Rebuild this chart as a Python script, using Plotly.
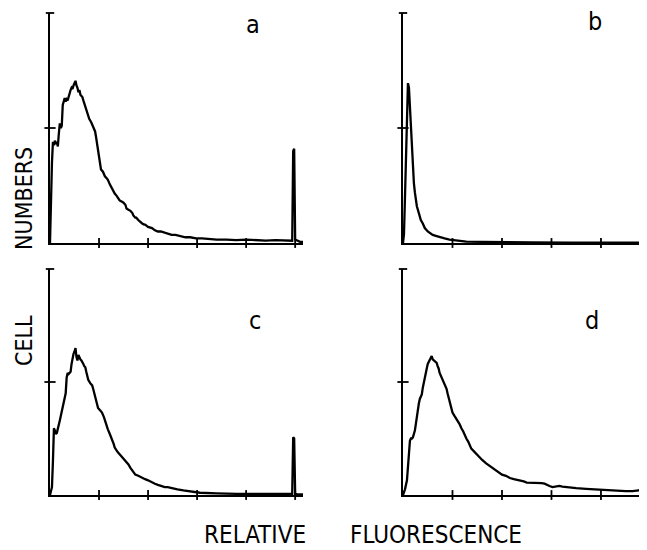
import plotly.graph_objects as go

# ---------------- data (channel, cell count in arbitrary units) ----------------
a_ch = [0,1,2,3,4,5,6,7,8,9,10,11,12,13,14,15,16,17,18,19,20,21,22,23,24,25,26,27,28,29,30,31,32,33,34,35,36,37,38,39,40,42,44,45,46,47,48,49,50,51,52,54,56,58,59,61,63,65,66,68,69,71,73,75,77,78,80,82,84,85,87,88,90,92,94,96,97,100,104,107,110,113,117,120,124,128,133,138,143,149,155,160,170,180,190,200,210,220,230,240,245,247,248,249,250,252,255,258]
a_val = [0,40,70,88,85,89,86,88,84,95,104,100,102,120,124,126,123,125,124,128,131,133,135,134,137,139,141,137,135,131,133,129,128,127,124,121,118,116,113,110,108,105,100,99,97,92,86,81,73,66,64,62,58,56,55,51,48,44,43,41,40,37,36,35,33,30,29,28,26,24,22,22,20,18,17,16,16,14,13,11,10,10,9,8,7,7,6,5,5,4,4,3.5,3,3,2.5,3,2.5,2,2.5,2,2,2,80,82,3,2,1,1]

b_ch = [0,1,2,3,4,5,6,7,8,9,10,11,12,13,14,16,18,20,22,25,28,30,34,37,42,47,55,64,80,100,130,170,246]
b_val = [0,8,40,80,115,139,135,118,100,82,62,52,44,37,32,26,20,17,13,10,8,7,6,5,4,3,2,1.2,1,0.6,0.5,0.4,0.3]

c_ch = [0,1,2,3,4,5,6,7,8,9,10,11,12,13,14,15,16,17,18,19,20,21,22,23,24,25,26,27,28,29,30,31,32,33,34,35,36,37,38,39,41,43,44,46,47,48,49,51,53,55,56,58,59,61,63,65,66,68,69,71,74,77,80,82,84,86,87,90,92,95,97,100,104,107,110,114,117,120,124,130,136,145,153,170,191,220,242,246,247,248,249,250,252,258]
c_val = [0,3,7,30,59,57,54,55,58,62,66,70,74,78,84,88,90,104,108,107,108,109,116,122,125,127,130,122,119,124,121,120,119,118,116,114,113,109,105,102,99,97,94,88,84,80,77,75,73,69,66,61,58,54,50,45,42,39,38,36,33,30,27,24,22,20,18,17,16,15,14,13,11,10,9,8,7,7,6,5,4,3,2,1.5,1,1,0.5,0.5,1,51,50,1,0.5,0.5]

d_ch = [0,1,2,4,5,6,7,8,9,10,11,12,13,14,15,16,17,19,20,21,22,23,24,25,26,27,28,29,30,31,33,34,35,36,37,38,40,42,44,45,47,48,50,52,55,57,59,61,64,66,69,71,74,77,80,84,87,90,94,97,100,104,108,112,118,122,125,130,135,138,140,143,145,148,151,155,158,161,165,168,175,185,195,205,215,225,232,238,241,243,245]
d_val = [0,2,5,13,25,38,48,50,50,51,54,57,63,70,77,81,85,89,95,100,104,108,112,116,118,120,121,123,120,119,118,117,114,112,108,106,101,98,94,90,83,80,73,70,66,63,59,56,50,47,41,39,37,34,31,28,26,24,22,20,18,17,15,14,13,12,11,11,10.5,11,10.5,10,9,8,7,7.5,8,7.5,7,6.5,6,5.5,5,4,4,3.5,3.5,4,5,7,9]
d_over_ch = [245, 245]
d_over_val = [9, 198]

x_ticks_left = [50, 100, 150, 200, 250]
x_ticks_right = [50, 100, 150, 200]
y_mid_tick = [100]
y_top_cap = [200]

panel_labels = ["a", "b", "c", "d"]
x_title_words = ["RELATIVE", "FLUORESCENCE"]
y_title_words = ["CELL", "NUMBERS"]

# ---------------- figure ----------------
# page body has an 8px default margin; the figure is sized/placed to compensate
OFF = 8
W, H = 647 - OFF, 550 - OFF
FONT = "DejaVu Sans Condensed, DejaVu Sans, sans-serif"

def fx(p):
    return (p - OFF) / W

def fy(p):
    return 1 - (p - OFF) / H

fig = go.Figure()

panels = [
    (a_ch, a_val, "x", "y", x_ticks_left),
    (b_ch, b_val, "x2", "y2", x_ticks_right),
    (c_ch, c_val, "x3", "y3", x_ticks_left),
    (d_ch, d_val, "x4", "y4", x_ticks_right),
]

for ch, val, xa, ya, xt in panels:
    fig.add_trace(go.Scatter(x=ch, y=val, mode="lines", xaxis=xa, yaxis=ya,
                             line=dict(color="black", width=2.3), cliponaxis=False,
                             hoverinfo="skip"))
    # crossing x ticks
    fig.add_trace(go.Scatter(x=xt, y=[0] * len(xt), mode="markers", xaxis=xa, yaxis=ya,
                             marker=dict(symbol="line-ns", size=7,
                                         line=dict(color="black", width=1.8)),
                             cliponaxis=False, hoverinfo="skip"))
    # crossing y ticks
    fig.add_trace(go.Scatter(x=[0] * len(y_mid_tick), y=y_mid_tick, mode="markers",
                             xaxis=xa, yaxis=ya,
                             marker=dict(symbol="line-ew", size=8,
                                         line=dict(color="black", width=1.8)),
                             cliponaxis=False, hoverinfo="skip"))
    fig.add_trace(go.Scatter(x=[0] * len(y_top_cap), y=y_top_cap, mode="markers",
                             xaxis=xa, yaxis=ya,
                             marker=dict(symbol="line-ew", size=6,
                                         line=dict(color="black", width=1.8)),
                             cliponaxis=False, hoverinfo="skip"))

fig.add_trace(go.Scatter(x=d_over_ch, y=d_over_val, mode="lines", xaxis="x4", yaxis="y4",
                         line=dict(color="#6f6f6f", width=1.3), cliponaxis=False,
                         hoverinfo="skip"))

def xax(dom, rng, anchor):
    return dict(domain=dom, range=rng, anchor=anchor, showline=True, linecolor="black",
                linewidth=2, showticklabels=False, ticks="", showgrid=False,
                zeroline=False, fixedrange=True)

def yax(dom, anchor):
    return dict(domain=dom, range=[0, 200], anchor=anchor, showline=True,
                linecolor="black", linewidth=2, showticklabels=False, ticks="",
                showgrid=False, zeroline=False, fixedrange=True)

left_dom = [fx(50), fx(303)]
right_dom = [fx(403), 1.0]
top_dom = [fy(243), fy(13)]
bot_dom = [fy(495), fy(269)]

fig.update_layout(
    width=W, height=H, margin=dict(l=0, r=0, t=0, b=0),
    paper_bgcolor="white", plot_bgcolor="white", showlegend=False,
    xaxis=xax(left_dom, [0, 258], "y"),
    yaxis=yax(top_dom, "x"),
    xaxis2=xax(right_dom, [0, 246.5], "y2"),
    yaxis2=yax(top_dom, "x2"),
    xaxis3=xax(left_dom, [0, 258], "y3"),
    yaxis3=yax(bot_dom, "x3"),
    xaxis4=xax(right_dom, [0, 246.5], "y4"),
    yaxis4=yax(bot_dom, "x4"),
)

label_pos = [(253, 24), (595, 21), (255, 320), (592, 320)]
annotations = []
for txt, (px, py) in zip(panel_labels, label_pos):
    annotations.append(dict(text=txt, x=fx(px), y=fy(py), xref="paper", yref="paper",
                            showarrow=False, xanchor="center", yanchor="middle",
                            font=dict(family=FONT, size=25, color="black")))

for txt, px in zip(x_title_words, [255, 436]):
    annotations.append(dict(text=txt, x=fx(px), y=fy(535), xref="paper", yref="paper",
                            showarrow=False, xanchor="center", yanchor="middle",
                            font=dict(family=FONT, size=24, color="black")))

for txt, py in zip(y_title_words, [341, 199]):
    annotations.append(dict(text=txt, x=fx(24), y=fy(py), xref="paper", yref="paper",
                            showarrow=False, xanchor="center", yanchor="middle",
                            textangle=-90,
                            font=dict(family=FONT, size=23, color="black")))

fig.update_layout(annotations=annotations)
fig.write_html("out.html")
